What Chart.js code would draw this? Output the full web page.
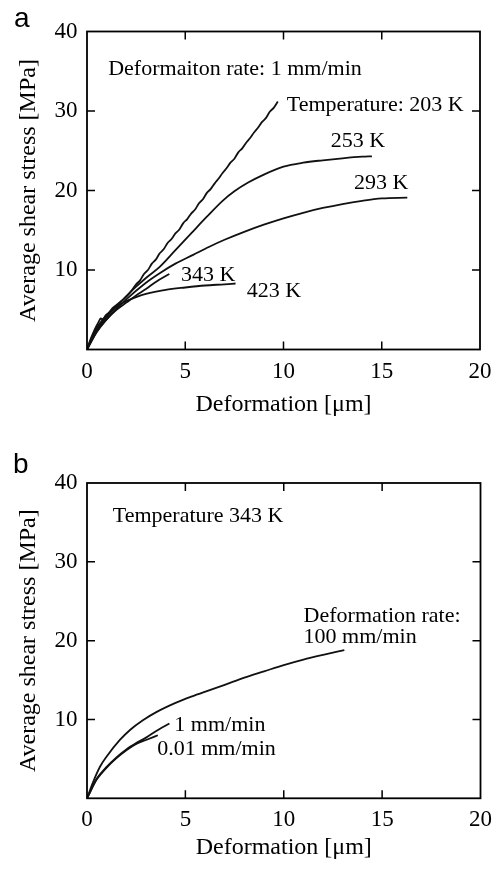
<!DOCTYPE html>
<html>
<head>
<meta charset="utf-8">
<script src="https://cdn.jsdelivr.net/npm/chart.js@4.4.1/dist/chart.umd.min.js"></script>
<style>
  html, body { margin: 0; padding: 0; background: #fff; }
  body { width: 500px; height: 869px; position: relative; overflow: hidden; }
  canvas { position: absolute; left: 0; }
  #ca { top: 0; }
  #cb { top: 440px; }
</style>
</head>
<body>
<canvas id="ca" width="500" height="440"></canvas>
<canvas id="cb" width="500" height="429"></canvas>
<script>
// ---------- Panel a data: Deformation [µm] vs Average shear stress [MPa] ----------
const a203X = [0,0.15,0.3,0.45,0.6,0.7,0.8,0.95,1.1,1.3,1.5,1.7,1.9,2.1,2.3,2.5,2.7,2.9,3.1,3.3,3.5,3.7,3.9,4.1,4.3,4.5,4.7,4.9,5.1,5.3,5.5,5.7,5.9,6.1,6.3,6.5,6.7,6.9,7.1,7.3,7.5,7.7,7.9,8.1,8.3,8.5,8.7,8.9,9.1,9.3,9.5,9.71];
const a203Y = [0,1.1,2.0,2.8,3.5,3.9,3.8,4.3,4.6,5.2,5.6,6.0,6.4,6.9,7.5,8.2,8.7,9.5,10.0,10.8,11.3,12.1,12.6,13.4,13.9,14.6,15.1,15.9,16.4,17.1,17.6,18.4,18.9,19.7,20.2,20.9,21.5,22.2,22.8,23.5,24.0,24.8,25.3,26.0,26.6,27.3,27.9,28.6,29.1,29.9,30.4,31.2];
const a253X = [0,0.5,1,1.5,2,2.5,3,3.7,4.5,5.3,6.1,6.9,7.5,8.2,9,10,11,12,13,14,14.5];
const a253Y = [0,2.5,4.1,5.4,6.7,7.9,9.0,10.4,12.5,14.6,16.7,18.7,19.9,21.0,22.0,23.0,23.5,23.8,24.05,24.25,24.3];
const a293X = [0,0.5,1,2,3,3.7,4.5,5.4,6.2,7,8,9,10,11,12,13,14,15,16.3];
const a293Y = [0,2.2,3.8,6.3,8.4,9.6,10.8,11.9,12.9,13.8,14.8,15.7,16.5,17.2,17.8,18.3,18.7,19.0,19.1];
const a343X = [0,0.5,1,1.5,2,2.5,3,3.5,4.19];
const a343Y = [0,2.3,3.8,5.0,5.9,6.8,7.6,8.5,9.5];
const a423X = [0,0.3,0.6,1,1.5,2,2.5,3,4,5,6,7,7.56];
const a423Y = [0,1.8,3.1,4.3,5.4,6.1,6.6,7.0,7.5,7.8,8.05,8.2,8.3];

// ---------- Panel b data ----------
const b100X = [0,0.3,0.66,1,1.67,2.2,2.84,3.5,4.5,5.3,6.2,7,8,9,10,11,12,13.08];
const b100Y = [0,2.0,4.0,5.3,7.4,8.7,9.9,10.9,12.1,12.9,13.7,14.4,15.3,16.1,16.9,17.6,18.2,18.8];
const b1X = [0,0.5,1,1.5,2,2.5,3,3.5,4.19];
const b1Y = [0,2.5,4.0,5.2,6.2,7.0,7.7,8.5,9.5];
const b001X = [0,0.5,1,1.5,2,2.5,3,3.4,3.6];
const b001Y = [0,2.4,3.9,5.1,6.1,6.9,7.4,7.8,8.0];

// ---------- Axes ----------
const xMin = 0, xMax = 20, xStep = 5;
const yMin = 0, yMax = 40, yStep = 10;
const xTitle = 'Deformation [\u03bcm]';
const yTitle = 'Average shear stress [MPa]';

// ---------- Annotation texts (anchored at data coordinates) ----------
const annotA = [
  { text: 'Deformaiton rate: 1 mm/min', x: 1.08, y: 34.5 },
  { text: 'Temperature: 203 K', x: 10.17, y: 30.0 },
  { text: '253 K', x: 12.41, y: 25.5 },
  { text: '293 K', x: 13.59, y: 20.15 },
  { text: '343 K', x: 4.78, y: 8.6 },
  { text: '423 K', x: 8.13, y: 6.64 }
];
const annotB = [
  { text: 'Temperature 343 K', x: 1.31, y: 35.1 },
  { text: 'Deformation rate:', x: 11.01, y: 22.4 },
  { text: '100 mm/min', x: 11.01, y: 19.67 },
  { text: '1 mm/min', x: 4.44, y: 8.58 },
  { text: '0.01 mm/min', x: 3.57, y: 5.49 }
];

const SERIF = '"Liberation Serif", "Times New Roman", serif';
Chart.defaults.font.family = SERIF;
Chart.defaults.color = '#000';

function pts(xs, ys) { return xs.map((v, i) => ({ x: v, y: ys[i] })); }

const framePlugin = {
  id: 'frame',
  afterDraw(chart, args, opts) {
    const ctx = chart.ctx;
    const { left, right, top, bottom } = chart.chartArea;
    const xs = chart.scales.x, ys = chart.scales.y;
    ctx.save();
    ctx.strokeStyle = '#000';
    ctx.lineWidth = 1.8;
    ctx.strokeRect(left, top, right - left, bottom - top);
    ctx.lineWidth = 1.5;
    ctx.beginPath();
    xs.ticks.forEach(t => {
      if (t.value > xs.min && t.value < xs.max) {
        const p = xs.getPixelForValue(t.value);
        ctx.moveTo(p, bottom); ctx.lineTo(p, bottom - 8);
        ctx.moveTo(p, top); ctx.lineTo(p, top + 8);
      }
    });
    ys.ticks.forEach(t => {
      if (t.value > ys.min && t.value < ys.max) {
        const p = ys.getPixelForValue(t.value);
        ctx.moveTo(left, p); ctx.lineTo(left + 8, p);
        ctx.moveTo(right, p); ctx.lineTo(right - 8, p);
      }
    });
    ctx.stroke();
    // annotations
    ctx.fillStyle = '#000';
    ctx.font = '22px ' + SERIF;
    ctx.textAlign = 'left';
    ctx.textBaseline = 'alphabetic';
    (opts.notes || []).forEach(n => {
      ctx.fillText(n.text, xs.getPixelForValue(n.x), ys.getPixelForValue(n.y));
    });
    // panel letter
    ctx.font = '28px "Liberation Sans", Arial, sans-serif';
    ctx.fillText(opts.letter, opts.lx, opts.ly);
    ctx.restore();
  }
};

function makeChart(id, seriesList, notes, cfg) {
  return new Chart(document.getElementById(id), {
    type: 'line',
    data: {
      datasets: seriesList.map(s => ({
        data: pts(s[0], s[1]),
        borderColor: '#111',
        borderWidth: 1.8,
        pointRadius: 0,
        fill: false,
        tension: 0.3,
        cubicInterpolationMode: 'monotone'
      }))
    },
    options: {
      responsive: false,
      animation: false,
      events: [],
      layout: { padding: { top: cfg.top, right: 17, left: 0, bottom: 0 } },
      plugins: {
        legend: { display: false },
        tooltip: { enabled: false },
        frame: { notes: notes, letter: cfg.letter, lx: cfg.lx, ly: cfg.ly }
      },
      scales: {
        x: {
          type: 'linear', min: xMin, max: xMax,
          grid: { display: false, drawTicks: false },
          border: { display: false },
          ticks: { stepSize: xStep, padding: cfg.xtickPad, color: '#000', font: { family: SERIF, size: 23 } },
          title: { display: true, text: xTitle, color: '#000', font: { family: SERIF, size: 24 }, padding: { top: 0, bottom: cfg.xtitlePad } },
          afterFit(scale) { scale.height = cfg.xHeight; }
        },
        y: {
          type: 'linear', min: yMin, max: yMax,
          grid: { display: false, drawTicks: false },
          border: { display: false },
          ticks: {
            stepSize: yStep, padding: 9.5, color: '#000', font: { family: SERIF, size: 23 },
            callback: v => (v === 0 ? null : String(v))
          },
          title: { display: true, text: yTitle, color: '#000', font: { family: SERIF, size: 24 }, padding: { top: 14.5, bottom: 0 } },
          afterFit(scale) { scale.width = 87; }
        }
      }
    },
    plugins: [framePlugin]
  });
}

makeChart('ca',
  [[a203X, a203Y], [a253X, a253Y], [a293X, a293Y], [a343X, a343Y], [a423X, a423Y]],
  annotA,
  { top: 31.5, xHeight: 90.5, xtickPad: 8.5, xtitlePad: 20.5, letter: 'a', lx: 14, ly: 27 });

makeChart('cb',
  [[b100X, b100Y], [b1X, b1Y], [b001X, b001Y]],
  annotB,
  { top: 43, xHeight: 70.7, xtickPad: 8, xtitlePad: 6.5, letter: 'b', lx: 13, ly: 33 });
</script>
</body>
</html>
